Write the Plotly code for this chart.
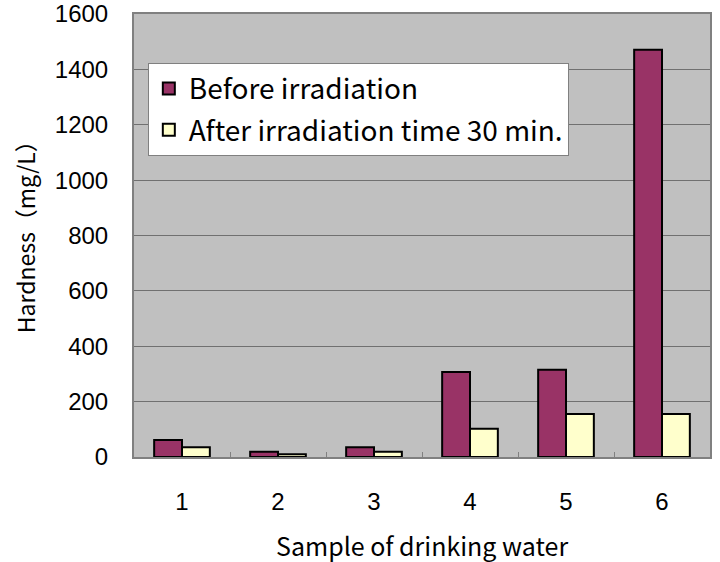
import plotly.graph_objects as go

# Daten
samples = ['1', '2', '3', '4', '5', '6']
before_irr = [61, 19, 35, 307, 315, 1471]   # Before irradiation
after_irr = [35, 10, 19, 102, 155, 155]     # After irradiation time 30 min.
y_ticks = [0, 200, 400, 600, 800, 1000, 1200, 1400, 1600]

fnt = 'Noto Sans CJK JP, sans-serif'
tick_fnt = dict(family='Liberation Sans, Arial, sans-serif', size=24, color='black')

fig = go.Figure()
fig.add_trace(go.Bar(x=samples, y=before_irr, name='Before irradiation', legendgroup='a',
                     marker=dict(color='#993366', line=dict(color='black', width=2))))
fig.add_trace(go.Bar(x=samples, y=after_irr, name='After irradiation time 30 min.', legendgroup='b',
                     marker=dict(color='#FFFFCC', line=dict(color='black', width=2))))

fig.update_layout(
    width=720, height=562,
    margin=dict(l=134, r=10, t=14, b=105),
    paper_bgcolor='white', plot_bgcolor='#C0C0C0',
    barmode='group', bargap=0.42, bargroupgap=0,
    font=dict(family=fnt, size=25, color='black'),
    legend=dict(x=0.024, y=0.89, xanchor='left', yanchor='top',
                bgcolor='white', bordercolor='#808080', borderwidth=1,
                font=dict(size=28), traceorder='grouped', tracegroupgap=2,
                itemsizing='constant'),
    # Achsentitel als Annotationen, damit die Position stimmt
    annotations=[
        dict(text='Sample of drinking water', x=0.5, y=-0.198, xref='paper', yref='paper',
             xanchor='center', yanchor='middle', showarrow=False),
        dict(text='Hardness\uff08mg/L\uff09', x=-0.189, y=0.51, xref='paper', yref='paper',
             xanchor='center', yanchor='middle', textangle=-90, showarrow=False,
             font=dict(size=23)),
    ],
)
fig.update_xaxes(showline=True, linecolor='#808080', linewidth=2, mirror=True,
                 ticks='inside', tickson='boundaries', ticklen=5, tickcolor='#808080',
                 tickfont=tick_fnt, showgrid=False, automargin=False, ticklabelstandoff=22)
fig.update_yaxes(range=[0, 1600], tickvals=y_ticks, ticklabelstandoff=19,
                 tickfont=tick_fnt, ticklabeloverflow='allow',
                 showline=True, linecolor='#808080', linewidth=2, mirror=True,
                 gridcolor='#707070', gridwidth=1, ticks='', zeroline=False,
                 automargin=False)

# body-Rand im Browser entfernen, sonst ist alles um 8px verschoben
fig.write_html("out.html", config={'displayModeBar': False},
               post_script="document.body.style.margin='0';")
